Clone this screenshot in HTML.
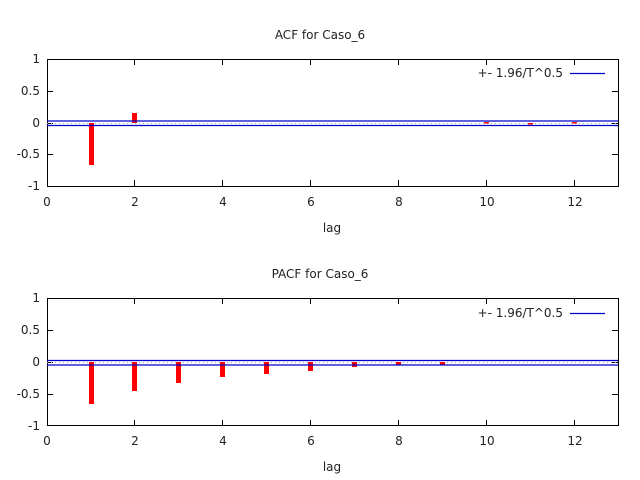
<!DOCTYPE html>
<html><head><style>body{margin:0;background:#fff}svg{display:block}text{font-family:"DejaVu Sans","Liberation Sans",sans-serif;font-size:12px;fill:#222}</style></head><body>
<svg width="640" height="480" viewBox="0 0 640 480">
<g id="top">
<text x="320" y="39" text-anchor="middle">ACF for Caso_6</text>
<rect x="47.5" y="59.5" width="571" height="127" fill="none" stroke="#000"/>
<g stroke="#000">
<line x1="47" y1="59.5" x2="53" y2="59.5"/><line x1="47" y1="91.5" x2="53" y2="91.5"/><line x1="47" y1="123.5" x2="53" y2="123.5"/><line x1="47" y1="154.5" x2="53" y2="154.5"/>
<line x1="612" y1="59.5" x2="618" y2="59.5"/><line x1="612" y1="91.5" x2="618" y2="91.5"/><line x1="612" y1="123.5" x2="618" y2="123.5"/><line x1="612" y1="154.5" x2="618" y2="154.5"/>
<line x1="134.5" y1="186" x2="134.5" y2="180"/><line x1="222.5" y1="186" x2="222.5" y2="180"/><line x1="310.5" y1="186" x2="310.5" y2="180"/><line x1="398.5" y1="186" x2="398.5" y2="180"/><line x1="486.5" y1="186" x2="486.5" y2="180"/><line x1="574.5" y1="186" x2="574.5" y2="180"/>
<line x1="134.5" y1="59" x2="134.5" y2="65"/><line x1="222.5" y1="59" x2="222.5" y2="65"/><line x1="310.5" y1="59" x2="310.5" y2="65"/><line x1="398.5" y1="59" x2="398.5" y2="65"/><line x1="486.5" y1="59" x2="486.5" y2="65"/><line x1="574.5" y1="59" x2="574.5" y2="65"/>
</g>
<g text-anchor="end"><text x="40" y="63">1</text><text x="40" y="95">0.5</text><text x="40" y="127">0</text><text x="40" y="158">-0.5</text><text x="40" y="190">-1</text></g>
<g text-anchor="middle"><text x="47" y="206">0</text><text x="135" y="206">2</text><text x="223" y="206">4</text><text x="311" y="206">6</text><text x="399" y="206">8</text><text x="487" y="206">10</text><text x="575" y="206">12</text><text x="332" y="232">lag</text></g>
<line x1="47" y1="123.5" x2="618" y2="123.5" stroke="#aaa" stroke-dasharray="1,3"/>
<g fill="#f00"><rect x="89" y="123" width="5" height="42"/><rect x="132" y="113" width="5" height="10"/><rect x="484" y="122" width="5" height="1.5"/><rect x="528" y="123" width="5" height="1.5"/><rect x="572" y="122" width="5" height="1.5"/></g>
<g stroke="#00c" stroke-width="1.3"><line x1="47" y1="121" x2="618" y2="121"/><line x1="47" y1="125.5" x2="618" y2="125.5"/><line x1="570" y1="73.5" x2="605" y2="73.5"/></g>
<text x="563" y="77" text-anchor="end">+- 1.96/T^0.5</text>
</g>
<g id="bot">
<text x="320" y="278" text-anchor="middle">PACF for Caso_6</text>
<rect x="47.5" y="298.5" width="571" height="127" fill="none" stroke="#000"/>
<g stroke="#000">
<line x1="47" y1="298.5" x2="53" y2="298.5"/><line x1="47" y1="330.5" x2="53" y2="330.5"/><line x1="47" y1="362.5" x2="53" y2="362.5"/><line x1="47" y1="394.5" x2="53" y2="394.5"/>
<line x1="612" y1="298.5" x2="618" y2="298.5"/><line x1="612" y1="330.5" x2="618" y2="330.5"/><line x1="612" y1="362.5" x2="618" y2="362.5"/><line x1="612" y1="394.5" x2="618" y2="394.5"/>
<line x1="134.5" y1="426" x2="134.5" y2="420"/><line x1="222.5" y1="426" x2="222.5" y2="420"/><line x1="310.5" y1="426" x2="310.5" y2="420"/><line x1="398.5" y1="426" x2="398.5" y2="420"/><line x1="486.5" y1="426" x2="486.5" y2="420"/><line x1="574.5" y1="426" x2="574.5" y2="420"/>
<line x1="134.5" y1="298" x2="134.5" y2="304"/><line x1="222.5" y1="298" x2="222.5" y2="304"/><line x1="310.5" y1="298" x2="310.5" y2="304"/><line x1="398.5" y1="298" x2="398.5" y2="304"/><line x1="486.5" y1="298" x2="486.5" y2="304"/><line x1="574.5" y1="298" x2="574.5" y2="304"/>
</g>
<g text-anchor="end"><text x="40" y="302">1</text><text x="40" y="334">0.5</text><text x="40" y="366">0</text><text x="40" y="398">-0.5</text><text x="40" y="430">-1</text></g>
<g text-anchor="middle"><text x="47" y="445">0</text><text x="135" y="445">2</text><text x="223" y="445">4</text><text x="311" y="445">6</text><text x="399" y="445">8</text><text x="487" y="445">10</text><text x="575" y="445">12</text><text x="332" y="471">lag</text></g>
<line x1="47" y1="362.5" x2="618" y2="362.5" stroke="#aaa" stroke-dasharray="1,3"/>
<g fill="#f00"><rect x="89" y="362" width="5" height="42"/><rect x="132" y="362" width="5" height="29"/><rect x="176" y="362" width="5" height="21"/><rect x="220" y="362" width="5" height="15"/><rect x="264" y="362" width="5" height="12"/><rect x="308" y="362" width="5" height="9"/><rect x="352" y="362" width="5" height="5"/><rect x="396" y="362" width="5" height="2.5"/><rect x="440" y="362" width="5" height="2.5"/></g>
<g stroke="#00c" stroke-width="1.3"><line x1="47" y1="360.5" x2="618" y2="360.5"/><line x1="47" y1="365" x2="618" y2="365"/><line x1="570" y1="313.5" x2="605" y2="313.5"/></g>
<text x="563" y="317" text-anchor="end">+- 1.96/T^0.5</text>
</g>
</svg>
</body></html>
